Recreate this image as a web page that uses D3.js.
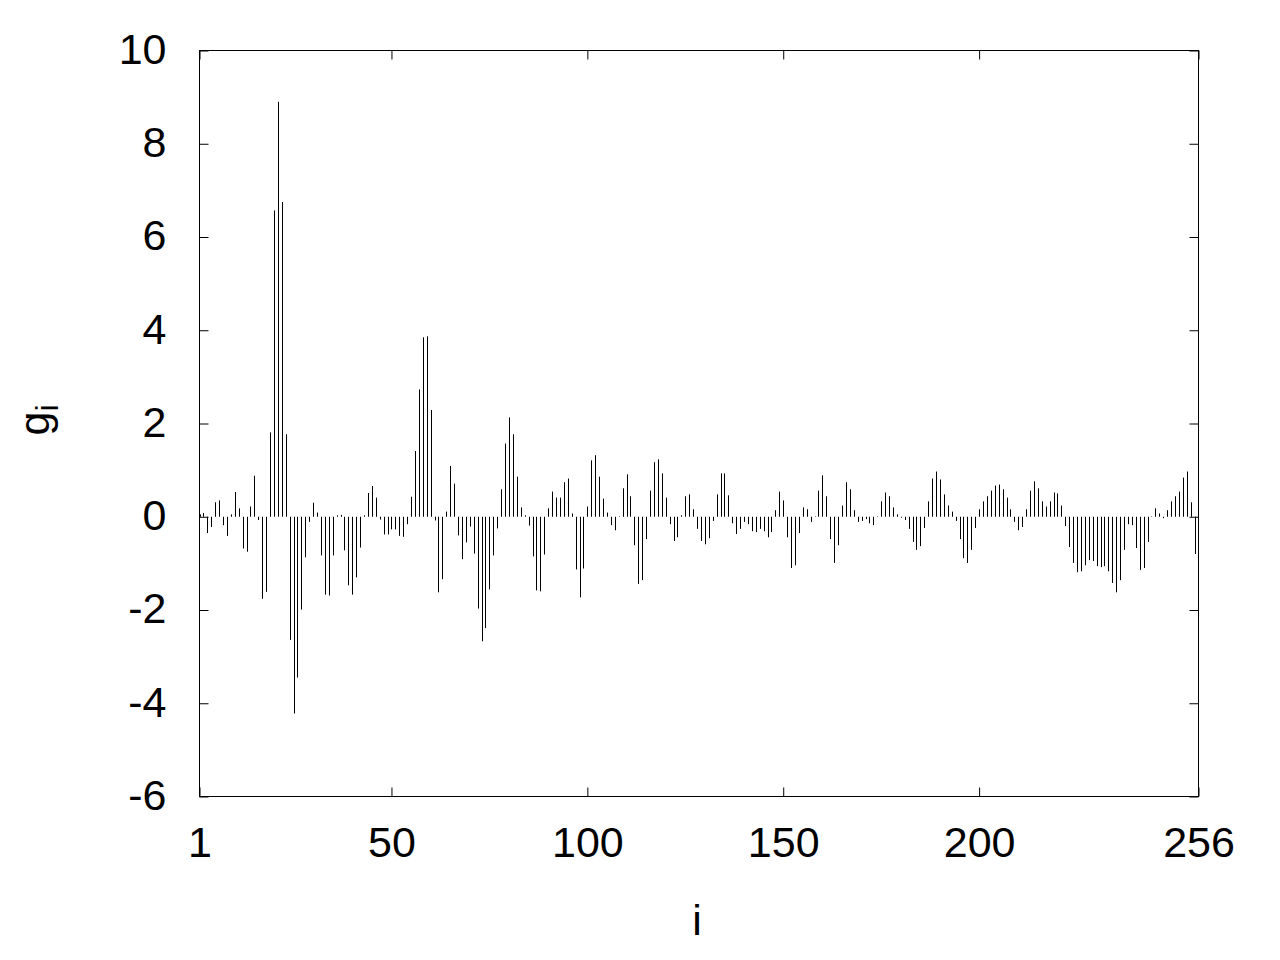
<!DOCTYPE html>
<html>
<head>
<meta charset="utf-8">
<script src="https://cdn.jsdelivr.net/npm/d3@7"></script>
<style>
  html, body { margin: 0; padding: 0; background: #fff; }
  svg { display: block; }
  text { font-family: "Liberation Sans", Arial, sans-serif; fill: #000; }
</style>
</head>
<body>
<svg id="chart" width="1280" height="960"></svg>
<script>
// ---- data ----
const values = [
  0.05, 0.08, -0.35, -0.22, 0.31, 0.35, -0.18, -0.41, 0.05, 0.53,
  0.18, -0.68, -0.75, 0.22, 0.88, -0.07, -1.76, -1.61, 1.81, 6.57,
  8.90, 6.75, 1.77, -2.64, -4.22, -3.45, -1.99, -0.87, -0.11, 0.30,
  0.09, -0.83, -1.67, -1.69, -0.83, 0.03, 0.04, -0.72, -1.47, -1.67,
  -1.30, -0.66, 0.03, 0.51, 0.66, 0.41, -0.06, -0.38, -0.38, -0.27,
  -0.27, -0.41, -0.43, -0.16, 0.43, 1.41, 2.73, 3.85, 3.87, 2.29,
  -0.08, -1.62, -1.34, 0.11, 1.09, 0.71, -0.40, -0.91, -0.55, -0.21,
  -0.79, -1.97, -2.67, -2.39, -1.56, -0.83, -0.25, 0.59, 1.57, 2.13,
  1.77, 0.86, 0.20, 0.03, -0.19, -0.85, -1.58, -1.60, -0.81, 0.18,
  0.54, 0.41, 0.41, 0.74, 0.82, 0.07, -1.13, -1.73, -1.11, 0.22,
  1.21, 1.32, 0.86, 0.39, 0.09, -0.18, -0.29, 0.01, 0.61, 0.91,
  0.44, -0.61, -1.44, -1.36, -0.48, 0.56, 1.17, 1.23, 0.93, 0.41,
  -0.16, -0.52, -0.44, 0.03, 0.44, 0.48, 0.16, -0.26, -0.52, -0.59,
  -0.46, -0.09, 0.48, 0.93, 0.93, 0.46, -0.14, -0.37, -0.26, -0.11,
  -0.16, -0.31, -0.33, -0.26, -0.31, -0.44, -0.33, 0.14, 0.54, 0.35,
  -0.44, -1.10, -1.04, -0.35, 0.20, 0.16, -0.11, 0.01, 0.56, 0.89,
  0.44, -0.48, -0.99, -0.61, 0.24, 0.74, 0.59, 0.14, -0.11, -0.09,
  -0.05, -0.14, -0.18, 0.01, 0.33, 0.52, 0.44, 0.20, 0.05, -0.02,
  -0.07, -0.26, -0.54, -0.71, -0.63, -0.24, 0.33, 0.82, 0.97, 0.80,
  0.48, 0.24, 0.11, -0.09, -0.48, -0.89, -0.99, -0.71, -0.24, 0.16,
  0.33, 0.44, 0.56, 0.67, 0.69, 0.59, 0.41, 0.16, -0.11, -0.29,
  -0.22, 0.16, 0.56, 0.76, 0.61, 0.33, 0.22, 0.33, 0.52, 0.50,
  0.24, -0.20, -0.65, -0.99, -1.19, -1.17, -1.04, -0.93, -0.95, -1.06,
  -1.08, -1.06, -1.17, -1.42, -1.62, -1.36, -0.71, -0.16, -0.18, -0.67,
  -1.14, -1.10, -0.54, 0.01, 0.18, 0.07, -0.03, 0.14, 0.33, 0.44,
  0.54, 0.84, 0.97, 0.31, -0.80, 0.00
];
const indices = values.map((v, k) => k + 1);
const xTicks = [1, 50, 100, 150, 200, 256];
const yTicks = [-6, -4, -2, 0, 2, 4, 6, 8, 10];
const xDomain = [1, 256];
const yDomain = [-6, 10];
const xTitle = "i";
const yTitleMain = "g";
const yTitleSub = "i";

// ---- layout ----
const L = 199.5, R = 1198.5, T = 50.5, B = 796.5;
const svg = d3.select("#chart");
svg.append("rect").attr("width", 1280).attr("height", 960).attr("fill", "#fff");

const x = d3.scaleLinear().domain(xDomain).range([L, R]);
const y = d3.scaleLinear().domain(yDomain).range([B, T]);

// impulses
svg.append("g")
  .selectAll("line")
  .data(indices)
  .join("line")
  .attr("x1", d => Math.round(x(d)) + 0.5)
  .attr("x2", d => Math.round(x(d)) + 0.5)
  .attr("y1", y(0))
  .attr("y2", d => y(values[d - 1]))
  .attr("stroke", "#000")
  .attr("stroke-width", 1);

// axes (ticks inward, mirrored)
const tickLen = 9;
const fs = 43;
const fmt = d => String(d);
const axL = d3.axisLeft(y).tickValues(yTicks).tickSize(-tickLen).tickPadding(33).tickFormat(fmt);
const axR = d3.axisRight(y).tickValues(yTicks).tickSize(-tickLen).tickFormat("");
const axB = d3.axisBottom(x).tickValues(xTicks).tickSize(-tickLen).tickPadding(30).tickFormat(fmt);
const axT = d3.axisTop(x).tickValues(xTicks).tickSize(-tickLen).tickFormat("");

function style(g) {
  g.select(".domain").remove();
  g.selectAll(".tick line").attr("stroke", "#000").attr("stroke-width", 1);
  g.selectAll(".tick text").attr("font-size", fs).attr("font-family", "Liberation Sans, Arial, sans-serif").attr("fill", "#000");
}
const gL = svg.append("g").attr("transform", `translate(${L},0)`).call(axL).call(style);
gL.selectAll(".tick text").attr("dy", "0.30em");
svg.append("g").attr("transform", `translate(${R},0)`).call(axR).call(style);
const gB = svg.append("g").attr("transform", `translate(0,${B})`).call(axB).call(style);
gB.selectAll(".tick text").attr("dy", "0.71em");
svg.append("g").attr("transform", `translate(0,${T})`).call(axT).call(style);

// border
svg.append("rect")
  .attr("x", L).attr("y", T).attr("width", R - L).attr("height", B - T)
  .attr("fill", "none").attr("stroke", "#000").attr("stroke-width", 1);

// axis titles
svg.append("text")
  .attr("x", 697).attr("y", 935)
  .attr("text-anchor", "middle")
  .attr("font-size", fs)
  .text(xTitle);

const yt = svg.append("text")
  .attr("transform", "translate(49,420) rotate(-90)")
  .attr("text-anchor", "middle")
  .attr("font-size", fs);
yt.append("tspan").text(yTitleMain);
yt.append("tspan").attr("font-size", 32).attr("dy", 9).text(yTitleSub);
</script>
</body>
</html>
